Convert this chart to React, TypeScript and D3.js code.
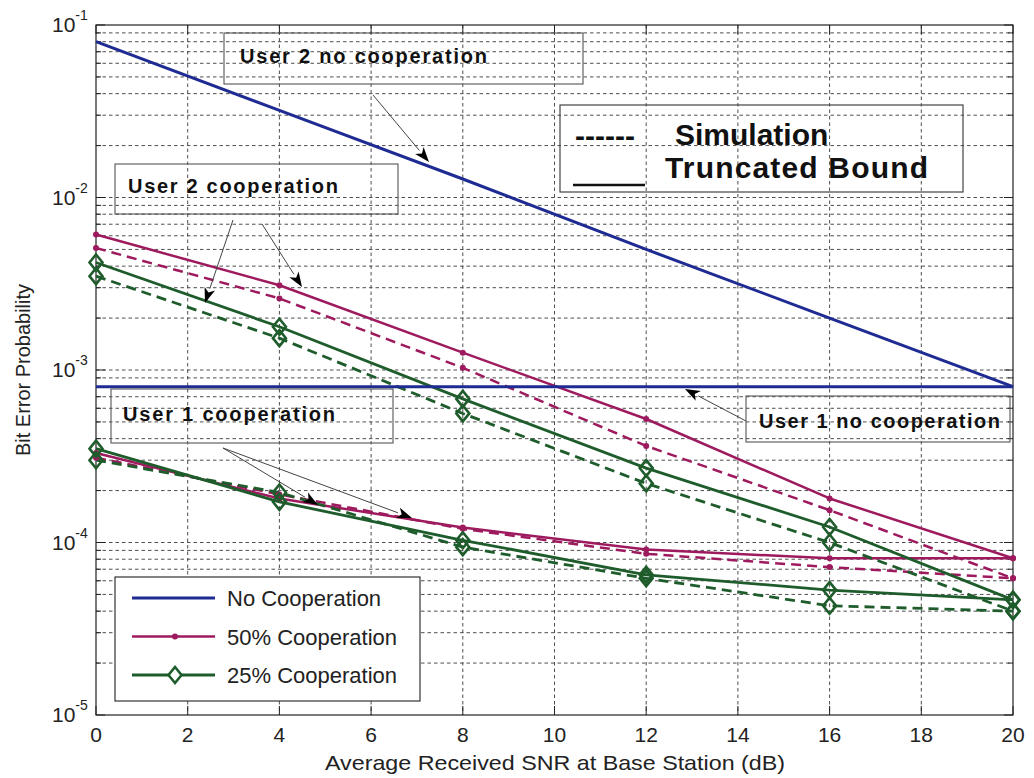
import React from "react";
import * as d3 from "d3";

// SNR points (dB)
const snr = [0, 4, 8, 12, 16, 20];

// No cooperation (truncated bound)
const user2NoCoop = [0.08, 0.032, 0.0128, 0.005, 0.002, 0.0008];
const user1NoCoop = [0.0008, 0.0008, 0.0008, 0.0008, 0.0008, 0.0008];

// 50% cooperation
const user2Coop50Bound = [6.1e-3, 3.1e-3, 1.26e-3, 5.2e-4, 1.8e-4, 8.1e-5];
const user2Coop50Sim = [5.1e-3, 2.6e-3, 1.03e-3, 3.63e-4, 1.54e-4, 6.2e-5];
const user1Coop50Bound = [3.3e-4, 1.8e-4, 1.22e-4, 9.1e-5, 8.1e-5, 8.1e-5];
const user1Coop50Sim = [3.1e-4, 1.9e-4, 1.2e-4, 8.6e-5, 7.2e-5, 6.2e-5];

// 25% cooperation
const user2Coop25Bound = [4.2e-3, 1.78e-3, 6.8e-4, 2.7e-4, 1.23e-4, 4.65e-5];
const user2Coop25Sim = [3.5e-3, 1.53e-3, 5.6e-4, 2.2e-4, 1.0e-4, 4.0e-5];
const user1Coop25Bound = [3.5e-4, 1.72e-4, 1.03e-4, 6.5e-5, 5.3e-5, 4.65e-5];
const user1Coop25Sim = [3.0e-4, 1.95e-4, 9.4e-5, 6.2e-5, 4.3e-5, 4.0e-5];

const xTicks = [0, 2, 4, 6, 8, 10, 12, 14, 16, 18, 20];
const yDecades = [-5, -4, -3, -2, -1];

const legendLabels = ["No Cooperation", "50% Cooperation", "25% Cooperation"];

const BLUE = "#1e2b92";
const MAGENTA = "#9e1a5e";
const GREEN = "#1f5c2c";
const FONT = "'Liberation Sans', Arial, Helvetica, sans-serif";

const W = 1034;
const H = 778;
const left = 96;
const right = 1013;
const top = 25;
const bottom = 715;

type Series = {
  values: number[];
  color: string;
  dashed: boolean;
  marker: "none" | "dot" | "diamond";
  width: number;
};

// drawn bottom-to-top: magenta, green, then blue
const series: Series[] = [
  { values: user2Coop50Sim, color: MAGENTA, dashed: true, marker: "dot", width: 2.5 },
  { values: user2Coop50Bound, color: MAGENTA, dashed: false, marker: "dot", width: 2.5 },
  { values: user1Coop50Sim, color: MAGENTA, dashed: true, marker: "dot", width: 2.5 },
  { values: user1Coop50Bound, color: MAGENTA, dashed: false, marker: "dot", width: 2.5 },
  { values: user2Coop25Sim, color: GREEN, dashed: true, marker: "diamond", width: 2.8 },
  { values: user2Coop25Bound, color: GREEN, dashed: false, marker: "diamond", width: 2.8 },
  { values: user1Coop25Sim, color: GREEN, dashed: true, marker: "diamond", width: 2.8 },
  { values: user1Coop25Bound, color: GREEN, dashed: false, marker: "diamond", width: 2.8 },
  { values: user2NoCoop, color: BLUE, dashed: false, marker: "none", width: 3 },
  { values: user1NoCoop, color: BLUE, dashed: false, marker: "none", width: 3 },
];

// text callouts: box, label and arrows (page pixels)
const callouts = [
  {
    label: "User 2 no cooperation",
    box: [224, 33, 583, 84],
    text: [240, 63, 247],
    arrows: [[373, 95, 429, 162]],
  },
  {
    label: "User 2 cooperation",
    box: [115, 164, 398, 214],
    text: [128, 193, 210],
    arrows: [
      [233, 220, 205, 303],
      [262, 224, 302, 287],
    ],
  },
  {
    label: "User 1 cooperation",
    box: [111, 389, 393, 443],
    text: [123, 421, 212],
    arrows: [
      [223, 448, 318, 505],
      [223, 448, 412, 518],
    ],
  },
  {
    label: "User 1 no cooperation",
    box: [746, 396, 1010, 442],
    text: [759, 428, 241],
    arrows: [[746, 421, 685, 389]],
  },
];

function Diamond({ cx, cy, color, fill = "none" }: { cx: number; cy: number; color: string; fill?: string }) {
  const w = 6.5;
  const h = 8;
  return (
    <path
      d={`M${cx},${cy - h}L${cx + w},${cy}L${cx},${cy + h}L${cx - w},${cy}Z`}
      fill={fill}
      stroke={color}
      strokeWidth={2.6}
    />
  );
}

function Arrow({ a }: { a: number[] }) {
  const [x1, y1, x2, y2] = a;
  const dx = x2 - x1;
  const dy = y2 - y1;
  const len = Math.hypot(dx, dy);
  const ux = dx / len;
  const uy = dy / len;
  const hl = 15;
  const hw = 5.5;
  const bx = x2 - ux * hl;
  const by = y2 - uy * hl;
  const px = -uy;
  const py = ux;
  return (
    <g>
      <line x1={x1} y1={y1} x2={bx} y2={by} stroke="#444" strokeWidth={1} />
      <path
        d={`M${x2},${y2}L${bx + px * hw},${by + py * hw}L${bx + ux * 4},${by + uy * 4}L${bx - px * hw},${by - py * hw}Z`}
        fill="#000"
      />
    </g>
  );
}

export default function App() {
  const x = d3.scaleLinear().domain([0, 20]).range([left, right]);
  const y = d3.scaleLog().domain([1e-5, 1e-1]).range([bottom, top]);

  const line = d3
    .line<number>()
    .x((_, i) => x(snr[i]))
    .y((v) => y(v));

  // minor log grid values
  const minor: number[] = [];
  for (let d = -5; d < -1; d++) {
    for (let k = 2; k <= 9; k++) minor.push(k * Math.pow(10, d));
  }
  const majorInner = [1e-4, 1e-3, 1e-2];

  const gridStyle = { stroke: "#3a3a3a", strokeWidth: 0.9, strokeDasharray: "3.5,3" };

  return (
    <svg
      width={W}
      height={H}
      style={{ position: "absolute", left: 0, top: 0, background: "#fff" }}
      fontFamily={FONT}
    >
      <rect x={0} y={0} width={W} height={H} fill="#fff" />

      {/* grid */}
      <g>
        {xTicks.slice(1, -1).map((t) => (
          <line key={"vx" + t} x1={x(t)} x2={x(t)} y1={top} y2={bottom} {...gridStyle} />
        ))}
        {[...minor, ...majorInner].map((v, i) => (
          <line key={"hy" + i} x1={left} x2={right} y1={y(v)} y2={y(v)} {...gridStyle} />
        ))}
      </g>

      {/* axes box and inward ticks */}
      <rect x={left} y={top} width={right - left} height={bottom - top} fill="none" stroke="#222" strokeWidth={1.2} />
      <g stroke="#222" strokeWidth={1}>
        {xTicks.map((t) => (
          <g key={"xt" + t}>
            <line x1={x(t)} x2={x(t)} y1={bottom} y2={bottom - 9} />
            <line x1={x(t)} x2={x(t)} y1={top} y2={top + 9} />
          </g>
        ))}
        {yDecades.map((d) => (
          <g key={"yt" + d}>
            <line x1={left} x2={left + 9} y1={y(Math.pow(10, d))} y2={y(Math.pow(10, d))} />
            <line x1={right} x2={right - 9} y1={y(Math.pow(10, d))} y2={y(Math.pow(10, d))} />
          </g>
        ))}
        {minor.map((v, i) => (
          <g key={"ym" + i}>
            <line x1={left} x2={left + 5} y1={y(v)} y2={y(v)} />
            <line x1={right} x2={right - 5} y1={y(v)} y2={y(v)} />
          </g>
        ))}
      </g>

      {/* tick labels */}
      <g fill="#222" fontSize={21}>
        {xTicks.map((t) => (
          <text key={"xl" + t} x={x(t)} y={bottom + 27} textAnchor="middle">
            {t}
          </text>
        ))}
        {yDecades.map((d) => (
          <text key={"yl" + d} x={52} y={y(Math.pow(10, d)) + 7}>
            10
            <tspan dy={-12} fontSize={14}>
              {String(d)}
            </tspan>
          </text>
        ))}
      </g>

      {/* axis titles */}
      <text x={555} y={770} textAnchor="middle" fontSize={21} fill="#222" textLength={460} lengthAdjust="spacingAndGlyphs">
        Average Received SNR at Base Station (dB)
      </text>
      <text
        transform={`translate(30,370) rotate(-90)`}
        textAnchor="middle"
        fontSize={20}
        fill="#222"
        textLength={172}
        lengthAdjust="spacingAndGlyphs"
      >
        Bit Error Probability
      </text>

      {/* data lines */}
      <g fill="none">
        {series.map((s, i) => (
          <path
            key={"s" + i}
            d={line(s.values) || ""}
            stroke={s.color}
            strokeWidth={s.width}
            strokeDasharray={s.dashed ? "10,6" : undefined}
            strokeLinejoin="round"
          />
        ))}
      </g>
      <g>
        {series.map((s, i) =>
          s.values.map((v, j) =>
            s.marker === "dot" ? (
              <circle key={`m${i}-${j}`} cx={x(snr[j])} cy={y(v)} r={3} fill={s.color} />
            ) : s.marker === "diamond" ? (
              <Diamond key={`m${i}-${j}`} cx={x(snr[j])} cy={y(v)} color={s.color} />
            ) : null
          )
        )}
      </g>

      {/* callouts */}
      {callouts.map((c, i) => (
        <g key={"c" + i}>
          <rect
            x={c.box[0]}
            y={c.box[1]}
            width={c.box[2] - c.box[0]}
            height={c.box[3] - c.box[1]}
            fill="none"
            stroke="#555"
            strokeWidth={1.1}
          />
          <text
            x={c.text[0]}
            y={c.text[1]}
            fontSize={20}
            fontWeight="bold"
            fill="#111"
            textLength={c.text[2]}
            lengthAdjust="spacing"
          >
            {c.label}
          </text>
          {c.arrows.map((a, k) => (
            <Arrow key={k} a={a} />
          ))}
        </g>
      ))}

      {/* line-style key */}
      <g>
        <rect x={560} y={105} width={403} height={87} fill="none" stroke="#444" strokeWidth={1.2} />
        <text x={575} y={146} fontSize={30} fontWeight="bold" fill="#111">
          ------
        </text>
        <line x1={573} x2={645} y1={185} y2={185} stroke="#111" strokeWidth={2.5} />
        <text x={675} y={145} fontSize={30} fontWeight="bold" fill="#111">
          Simulation
        </text>
        <text x={665} y={178} fontSize={30} fontWeight="bold" fill="#111" textLength={263} lengthAdjust="spacing">
          Truncated Bound
        </text>
      </g>

      {/* series legend */}
      <g>
        <rect x={115} y={577} width={305} height={124} fill="#fff" stroke="#333" strokeWidth={1.2} />
        {legendLabels.map((lab, i) => {
          const ly = 598 + i * 38.5;
          const col = [BLUE, MAGENTA, GREEN][i];
          return (
            <g key={"lg" + i}>
              <line x1={132} x2={215} y1={ly} y2={ly} stroke={col} strokeWidth={i === 1 ? 2.5 : 3} />
              {i === 1 && <circle cx={175} cy={ly} r={3} fill={col} />}
              {i === 2 && <Diamond cx={175} cy={ly} color={col} fill="#fff" />}
              <text x={227} y={ly + 8} fontSize={22} fill="#222">
                {lab}
              </text>
            </g>
          );
        })}
      </g>
    </svg>
  );
}
